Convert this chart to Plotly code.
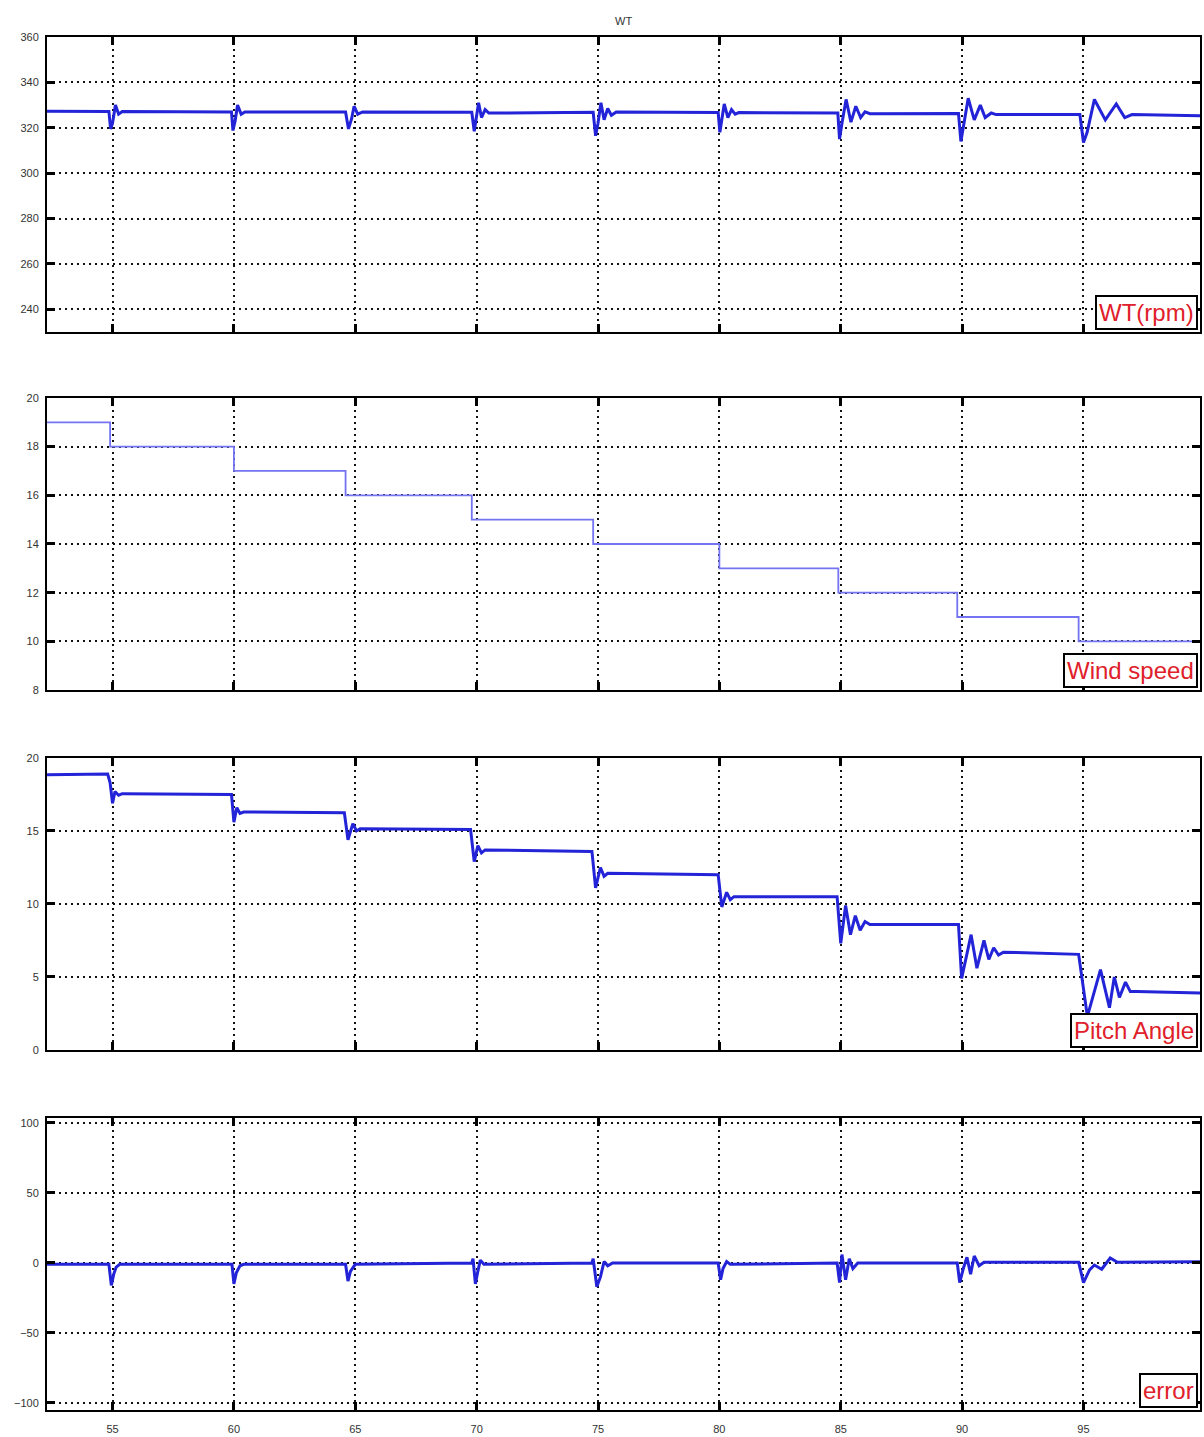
import plotly.graph_objects as go
from plotly.subplots import make_subplots

# Time axis (s)
t_range = [52.3, 99.8]
time_ticks = [55, 60, 65, 70, 75, 80, 85, 90, 95]

# Rotor speed WT (rpm)
wt_t = [52.3, 54.85, 54.92, 55.0, 55.12, 55.25, 55.4,
        59.9, 59.96, 60.05, 60.15, 60.3, 60.45,
        64.6, 64.72, 64.85, 64.95, 65.1, 65.3,
        69.8, 69.9, 70.0, 70.08, 70.2, 70.35, 70.5,
        74.8, 74.9, 75.0, 75.12, 75.25, 75.4, 75.55, 75.75,
        79.95, 80.02, 80.1, 80.2, 80.35, 80.5, 80.65, 80.8,
        84.88, 84.95, 85.05, 85.22, 85.42, 85.62, 85.82, 86.0, 86.2,
        89.85, 89.95, 90.05, 90.25, 90.5, 90.75, 90.95, 91.2, 91.4,
        94.85, 95.0, 95.15, 95.45, 95.9, 96.35, 96.7, 97.0, 99.8]
wt_v = [327.3, 327.2, 319.5, 322.0, 330.0, 326.0, 327.2,
        327.0, 318.8, 323.0, 330.0, 326.0, 327.0,
        327.0, 319.5, 324.0, 329.5, 326.0, 327.0,
        326.8, 318.5, 325.0, 331.0, 324.5, 328.0, 326.5,
        326.8, 316.5, 322.0, 331.0, 323.5, 328.5, 325.5, 327.0,
        326.7, 318.0, 324.0, 330.5, 324.5, 328.0, 326.0, 326.7,
        326.5, 315.0, 322.0, 332.5, 322.5, 329.5, 324.5, 327.0, 326.2,
        326.3, 314.0, 321.0, 333.0, 323.5, 330.0, 324.5, 326.5, 325.8,
        325.8, 313.5, 318.0, 332.5, 323.5, 330.5, 324.5, 325.8, 325.3]

# Wind speed (m/s), stepwise profile
wind_t = [52.3, 54.9, 60.0, 64.6, 69.8, 74.8, 80.0, 84.9, 89.8, 94.8, 99.8]
wind_v = [19, 18, 17, 16, 15, 14, 13, 12, 11, 10, 10]

# Pitch angle (deg)
pitch_t = [52.3, 54.8, 54.9, 55.0, 55.1, 55.25, 55.4,
           59.9, 60.0, 60.12, 60.25, 60.4,
           64.55, 64.7, 64.9, 65.05, 65.2,
           69.75, 69.9, 70.05, 70.2, 70.35,
           74.75, 74.9, 75.1, 75.25, 75.4,
           79.95, 80.1, 80.3, 80.45, 80.6,
           84.85, 85.0, 85.2, 85.4, 85.6, 85.8, 86.0, 86.2,
           89.85, 89.98, 90.37, 90.61, 90.9, 91.1, 91.3, 91.5, 91.7,
           94.8, 95.16, 95.7, 96.07, 96.27, 96.48, 96.73, 96.93, 97.2, 99.8]
pitch_v = [18.85, 18.9, 18.3, 16.9, 17.7, 17.45, 17.55,
           17.5, 15.6, 16.6, 16.2, 16.3,
           16.25, 14.4, 15.5, 15.0, 15.15,
           15.1, 12.9, 14.0, 13.5, 13.7,
           13.6, 11.1, 12.5, 11.9, 12.1,
           12.0, 9.8, 10.8, 10.3, 10.5,
           10.5, 7.3, 9.9, 7.9, 9.2, 8.2, 8.8, 8.6,
           8.6, 4.9, 7.9, 5.6, 7.5, 6.2, 7.0, 6.5, 6.7,
           6.55, 2.3, 5.5, 2.9, 5.0, 3.6, 4.65, 4.0, 4.0, 3.9]

# Speed tracking error
err_t = [52.3, 54.85, 54.95, 55.05, 55.15, 55.3,
         59.92, 60.0, 60.1, 60.25, 60.4,
         64.6, 64.7, 64.8, 65.0,
         69.8, 69.85, 69.95, 70.05, 70.15, 70.3,
         74.75, 74.8, 74.95, 75.1, 75.25, 75.4, 75.6,
         79.95, 80.05, 80.15, 80.3, 80.45,
         84.85, 84.95, 85.05, 85.2, 85.35, 85.5, 85.7,
         89.8, 89.9, 90.05, 90.2, 90.35, 90.5, 90.7, 90.9,
         94.8, 95.0, 95.25, 95.45, 95.75, 96.1, 96.4, 99.8]
err_v = [-1, -1, -16, -8, -3, -1,
         -1, -15, -7, -2, -1,
         -1, -13, -6, -1,
         0, 3, -15, -6, 2, -1,
         0, 3, -17, -10, 1, -2, 0,
         0, -12, -4, 1, -1,
         0, -14, 6, -12, 3, -4, 0,
         0, -14, -4, 4, -8, 5, -2, 0.5,
         0.5, -14, -5, -1.5, -4.5, 3.5, 0.5, 0.8]

panel_labels = ["WT(rpm)", "Wind speed", "Pitch Angle", "error"]
y_ranges = [[230, 360], [8, 20], [0, 20], [-105, 103.5]]
y_ticks = [[240, 260, 280, 300, 320, 340, 360],
           [8, 10, 12, 14, 16, 18, 20],
           [0, 5, 10, 15, 20],
           [-100, -50, 0, 50, 100]]
domains = [[0.7851, 1.0], [0.5244, 0.7371], [0.2622, 0.4749], [0.0, 0.2127]]

trace_blue = "#2323d8"

fig = make_subplots(rows=4, cols=1, shared_xaxes=True)

fig.add_trace(go.Scatter(x=wt_t, y=wt_v, mode="lines",
                         line=dict(color=trace_blue, width=3)), row=1, col=1)
fig.add_trace(go.Scatter(x=wind_t, y=wind_v, mode="lines",
                         line=dict(color="#7474f2", width=1.8, shape="hv")), row=2, col=1)
fig.add_trace(go.Scatter(x=pitch_t, y=pitch_v, mode="lines",
                         line=dict(color=trace_blue, width=3)), row=3, col=1)
fig.add_trace(go.Scatter(x=err_t, y=err_v, mode="lines",
                         line=dict(color=trace_blue, width=3)), row=4, col=1)

tick_font = dict(family="Liberation Sans, Arial, sans-serif", size=11, color="#333333")
grid_style = dict(showgrid=True, gridcolor="#111", griddash="2px,4px", gridwidth=1.7)

for i in range(4):
    r = i + 1
    fig.update_xaxes(
        range=t_range, tickvals=time_ticks, showticklabels=(r == 4),
        ticks="inside", ticklen=8, tickwidth=2.5, tickcolor="#000",
        showline=True, linecolor="#000", linewidth=2, mirror="ticks",
        zeroline=False, tickfont=tick_font, ticklabelstandoff=8,
        row=r, col=1, **grid_style)
    fig.update_yaxes(
        range=y_ranges[i], tickvals=y_ticks[i], domain=domains[i],
        ticks="inside", ticklen=8, tickwidth=2.5, tickcolor="#000",
        showline=True, linecolor="#000", linewidth=2, mirror="ticks",
        zeroline=False, tickfont=tick_font, ticklabelstandoff=4,
        row=r, col=1, **grid_style)
    axis_suffix = "" if r == 1 else str(r)
    fig.add_annotation(
        text=panel_labels[i], xref="x%s domain" % axis_suffix, yref="y%s domain" % axis_suffix,
        x=1, y=0, xanchor="right", yanchor="bottom", xshift=-2, yshift=2,
        showarrow=False, bgcolor="white", bordercolor="#000", borderwidth=2, borderpad=2,
        font=dict(family="Liberation Sans, Arial, sans-serif", size=24, color="#e0202a"))

fig.add_annotation(text="WT", xref="paper", yref="paper", x=0.5, y=1.0, yshift=8,
                   xanchor="center", yanchor="bottom", showarrow=False,
                   font=dict(family="Liberation Sans, Arial, sans-serif", size=11, color="#333"))

fig.update_layout(
    width=1204, height=1437, showlegend=False,
    margin=dict(l=47, r=2, t=37, b=27),
    paper_bgcolor="white", plot_bgcolor="white")

fig.write_html("out.html")
